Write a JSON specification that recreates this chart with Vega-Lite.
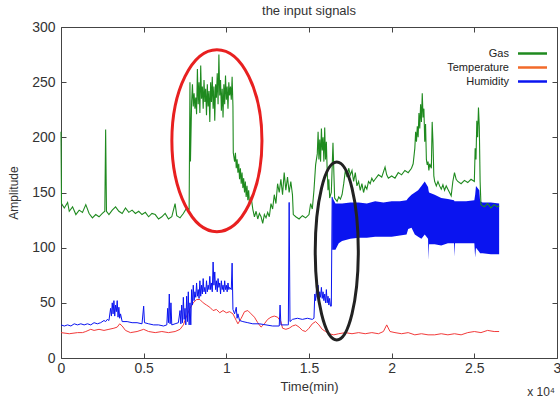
{
"$schema": "https://vega.github.io/schema/vega-lite/v6.json",
"width": 496, "height": 331,
"autosize": {"type": "none"},
"padding": {"left": 61, "top": 27, "right": 3, "bottom": 40},
"background": "white",
"title": {"text": "the input signals", "fontSize": 13, "fontWeight": "normal", "color": "#333", "font": "Liberation Sans", "offset": 2},
"config": {"view": {"stroke": null}, "font": "Liberation Sans"},
"datasets": {
"gas": [{"t":0,"v":205},{"t":0.003,"v":140},{"t":0.02,"v":136},{"t":0.04,"v":141},{"t":0.05,"v":133},{"t":0.07,"v":137},{"t":0.09,"v":130},{"t":0.11,"v":134},{"t":0.13,"v":132},{"t":0.15,"v":139},{"t":0.17,"v":131},{"t":0.19,"v":127},{"t":0.21,"v":130},{"t":0.23,"v":128},{"t":0.25,"v":131},{"t":0.265,"v":133},{"t":0.27,"v":207},{"t":0.275,"v":133},{"t":0.29,"v":130},{"t":0.31,"v":134},{"t":0.33,"v":137},{"t":0.35,"v":133},{"t":0.37,"v":131},{"t":0.39,"v":136},{"t":0.41,"v":132},{"t":0.43,"v":134},{"t":0.45,"v":131},{"t":0.47,"v":133},{"t":0.49,"v":130},{"t":0.51,"v":132},{"t":0.53,"v":128},{"t":0.55,"v":131},{"t":0.57,"v":130},{"t":0.59,"v":126},{"t":0.61,"v":128},{"t":0.63,"v":131},{"t":0.65,"v":126},{"t":0.67,"v":128},{"t":0.69,"v":140},{"t":0.70,"v":129},{"t":0.72,"v":127},{"t":0.74,"v":131},{"t":0.76,"v":136},{"t":0.775,"v":135},{"t":0.78,"v":250},{"t":0.783,"v":178},{"t":0.79,"v":232},{"t":0.795,"v":248},{"t":0.80,"v":228},{"t":0.805,"v":240},{"t":0.81,"v":226},{"t":0.815,"v":236},{"t":0.82,"v":221},{"t":0.825,"v":262},{"t":0.83,"v":230},{"t":0.835,"v":250},{"t":0.84,"v":222},{"t":0.845,"v":265},{"t":0.85,"v":235},{"t":0.855,"v":246},{"t":0.86,"v":226},{"t":0.865,"v":252},{"t":0.87,"v":232},{"t":0.875,"v":244},{"t":0.88,"v":220},{"t":0.885,"v":248},{"t":0.89,"v":228},{"t":0.895,"v":242},{"t":0.90,"v":214},{"t":0.905,"v":250},{"t":0.91,"v":232},{"t":0.915,"v":255},{"t":0.92,"v":226},{"t":0.925,"v":246},{"t":0.93,"v":215},{"t":0.935,"v":248},{"t":0.94,"v":236},{"t":0.945,"v":258},{"t":0.95,"v":230},{"t":0.955,"v":275},{"t":0.96,"v":238},{"t":0.965,"v":252},{"t":0.97,"v":224},{"t":0.975,"v":244},{"t":0.98,"v":218},{"t":0.985,"v":248},{"t":0.99,"v":230},{"t":0.995,"v":256},{"t":1.00,"v":234},{"t":1.005,"v":246},{"t":1.01,"v":226},{"t":1.015,"v":250},{"t":1.02,"v":238},{"t":1.025,"v":246},{"t":1.03,"v":234},{"t":1.035,"v":255},{"t":1.04,"v":228},{"t":1.042,"v":186},{"t":1.05,"v":178},{"t":1.055,"v":186},{"t":1.06,"v":172},{"t":1.065,"v":180},{"t":1.07,"v":168},{"t":1.075,"v":176},{"t":1.08,"v":162},{"t":1.085,"v":172},{"t":1.09,"v":158},{"t":1.095,"v":168},{"t":1.10,"v":154},{"t":1.105,"v":163},{"t":1.11,"v":150},{"t":1.115,"v":160},{"t":1.12,"v":146},{"t":1.125,"v":156},{"t":1.13,"v":143},{"t":1.135,"v":152},{"t":1.14,"v":140},{"t":1.15,"v":146},{"t":1.16,"v":135},{"t":1.17,"v":128},{"t":1.18,"v":133},{"t":1.19,"v":126},{"t":1.20,"v":131},{"t":1.21,"v":128},{"t":1.22,"v":122},{"t":1.23,"v":130},{"t":1.24,"v":127},{"t":1.25,"v":132},{"t":1.26,"v":128},{"t":1.27,"v":140},{"t":1.28,"v":135},{"t":1.29,"v":148},{"t":1.30,"v":140},{"t":1.31,"v":158},{"t":1.32,"v":150},{"t":1.33,"v":162},{"t":1.34,"v":148},{"t":1.35,"v":168},{"t":1.36,"v":152},{"t":1.37,"v":164},{"t":1.38,"v":150},{"t":1.39,"v":160},{"t":1.40,"v":148},{"t":1.405,"v":130},{"t":1.42,"v":128},{"t":1.44,"v":126},{"t":1.46,"v":129},{"t":1.48,"v":127},{"t":1.50,"v":130},{"t":1.51,"v":140},{"t":1.52,"v":135},{"t":1.53,"v":152},{"t":1.54,"v":175},{"t":1.55,"v":185},{"t":1.555,"v":205},{"t":1.56,"v":180},{"t":1.565,"v":198},{"t":1.57,"v":178},{"t":1.575,"v":208},{"t":1.58,"v":188},{"t":1.585,"v":200},{"t":1.59,"v":178},{"t":1.595,"v":209},{"t":1.60,"v":180},{"t":1.605,"v":196},{"t":1.61,"v":170},{"t":1.615,"v":152},{"t":1.62,"v":162},{"t":1.625,"v":145},{"t":1.635,"v":150},{"t":1.645,"v":195},{"t":1.655,"v":145},{"t":1.67,"v":142},{"t":1.68,"v":146},{"t":1.69,"v":144},{"t":1.70,"v":148},{"t":1.71,"v":158},{"t":1.72,"v":170},{"t":1.73,"v":164},{"t":1.74,"v":172},{"t":1.75,"v":166},{"t":1.76,"v":170},{"t":1.77,"v":160},{"t":1.78,"v":168},{"t":1.79,"v":156},{"t":1.80,"v":160},{"t":1.81,"v":152},{"t":1.82,"v":158},{"t":1.83,"v":150},{"t":1.84,"v":156},{"t":1.85,"v":153},{"t":1.86,"v":160},{"t":1.87,"v":158},{"t":1.88,"v":163},{"t":1.89,"v":160},{"t":1.90,"v":162},{"t":1.92,"v":166},{"t":1.94,"v":164},{"t":1.96,"v":173},{"t":1.97,"v":166},{"t":1.98,"v":163},{"t":2.00,"v":165},{"t":2.02,"v":163},{"t":2.04,"v":168},{"t":2.06,"v":166},{"t":2.08,"v":170},{"t":2.10,"v":168},{"t":2.12,"v":172},{"t":2.13,"v":176},{"t":2.14,"v":190},{"t":2.145,"v":205},{"t":2.15,"v":196},{"t":2.155,"v":210},{"t":2.16,"v":200},{"t":2.165,"v":222},{"t":2.17,"v":208},{"t":2.175,"v":230},{"t":2.18,"v":214},{"t":2.185,"v":240},{"t":2.19,"v":218},{"t":2.195,"v":226},{"t":2.20,"v":196},{"t":2.205,"v":212},{"t":2.21,"v":180},{"t":2.215,"v":175},{"t":2.22,"v":178},{"t":2.225,"v":170},{"t":2.23,"v":176},{"t":2.24,"v":172},{"t":2.245,"v":214},{"t":2.25,"v":195},{"t":2.255,"v":165},{"t":2.26,"v":160},{"t":2.27,"v":156},{"t":2.28,"v":160},{"t":2.29,"v":156},{"t":2.30,"v":153},{"t":2.31,"v":157},{"t":2.32,"v":152},{"t":2.33,"v":156},{"t":2.34,"v":153},{"t":2.35,"v":150},{"t":2.36,"v":147},{"t":2.37,"v":160},{"t":2.38,"v":168},{"t":2.39,"v":162},{"t":2.40,"v":160},{"t":2.42,"v":158},{"t":2.44,"v":161},{"t":2.46,"v":159},{"t":2.48,"v":162},{"t":2.50,"v":160},{"t":2.505,"v":190},{"t":2.51,"v":180},{"t":2.515,"v":215},{"t":2.52,"v":200},{"t":2.525,"v":227},{"t":2.53,"v":210},{"t":2.535,"v":160},{"t":2.54,"v":139},{"t":2.56,"v":137},{"t":2.58,"v":140},{"t":2.60,"v":136},{"t":2.62,"v":139},{"t":2.64,"v":137},{"t":2.65,"v":138}],
"temp": [{"t":0,"v":23},{"t":0.05,"v":22},{"t":0.1,"v":23},{"t":0.13,"v":23},{"t":0.15,"v":24},{"t":0.18,"v":26},{"t":0.2,"v":25},{"t":0.23,"v":26},{"t":0.26,"v":25},{"t":0.29,"v":26},{"t":0.32,"v":27},{"t":0.34,"v":28},{"t":0.355,"v":31},{"t":0.37,"v":29},{"t":0.39,"v":25},{"t":0.42,"v":23},{"t":0.46,"v":24},{"t":0.5,"v":26},{"t":0.53,"v":24},{"t":0.57,"v":23},{"t":0.61,"v":24},{"t":0.65,"v":23},{"t":0.69,"v":24},{"t":0.72,"v":26},{"t":0.74,"v":30},{"t":0.76,"v":38},{"t":0.78,"v":45},{"t":0.80,"v":50},{"t":0.82,"v":53},{"t":0.84,"v":53},{"t":0.86,"v":50},{"t":0.88,"v":48},{"t":0.90,"v":46},{"t":0.92,"v":43},{"t":0.94,"v":44},{"t":0.96,"v":41},{"t":0.98,"v":43},{"t":1.00,"v":41},{"t":1.02,"v":42},{"t":1.04,"v":40},{"t":1.06,"v":34},{"t":1.07,"v":31},{"t":1.09,"v":36},{"t":1.11,"v":42},{"t":1.13,"v":43},{"t":1.15,"v":40},{"t":1.17,"v":37},{"t":1.19,"v":32},{"t":1.21,"v":28},{"t":1.23,"v":31},{"t":1.25,"v":35},{"t":1.27,"v":37},{"t":1.29,"v":38},{"t":1.31,"v":37},{"t":1.33,"v":33},{"t":1.34,"v":27},{"t":1.36,"v":26},{"t":1.38,"v":27},{"t":1.40,"v":29},{"t":1.42,"v":30},{"t":1.44,"v":28},{"t":1.46,"v":25},{"t":1.48,"v":24},{"t":1.50,"v":27},{"t":1.52,"v":31},{"t":1.54,"v":33},{"t":1.56,"v":30},{"t":1.58,"v":26},{"t":1.60,"v":24},{"t":1.62,"v":22},{"t":1.65,"v":21},{"t":1.68,"v":22},{"t":1.72,"v":23},{"t":1.76,"v":22},{"t":1.80,"v":23},{"t":1.84,"v":22},{"t":1.88,"v":23},{"t":1.92,"v":22},{"t":1.95,"v":24},{"t":1.97,"v":30},{"t":1.99,"v":24},{"t":2.02,"v":23},{"t":2.06,"v":22},{"t":2.10,"v":23},{"t":2.14,"v":21},{"t":2.18,"v":22},{"t":2.22,"v":21},{"t":2.26,"v":21},{"t":2.30,"v":22},{"t":2.34,"v":21},{"t":2.38,"v":22},{"t":2.42,"v":21},{"t":2.46,"v":23},{"t":2.50,"v":24},{"t":2.54,"v":23},{"t":2.58,"v":25},{"t":2.62,"v":24},{"t":2.65,"v":24}],
"hum": [{"t":0,"v":30},{"t":0.02,"v":29},{"t":0.04,"v":30},{"t":0.06,"v":29},{"t":0.08,"v":31},{"t":0.10,"v":30},{"t":0.12,"v":31},{"t":0.14,"v":30},{"t":0.16,"v":31},{"t":0.18,"v":30},{"t":0.20,"v":32},{"t":0.22,"v":31},{"t":0.24,"v":32},{"t":0.26,"v":34},{"t":0.27,"v":33},{"t":0.28,"v":35},{"t":0.29,"v":34},{"t":0.30,"v":45},{"t":0.305,"v":38},{"t":0.31,"v":50},{"t":0.315,"v":40},{"t":0.32,"v":52},{"t":0.325,"v":38},{"t":0.33,"v":48},{"t":0.335,"v":42},{"t":0.34,"v":52},{"t":0.345,"v":37},{"t":0.35,"v":46},{"t":0.355,"v":36},{"t":0.36,"v":40},{"t":0.37,"v":33},{"t":0.40,"v":33},{"t":0.43,"v":32},{"t":0.46,"v":32},{"t":0.49,"v":31},{"t":0.50,"v":47},{"t":0.505,"v":32},{"t":0.53,"v":31},{"t":0.56,"v":30},{"t":0.59,"v":30},{"t":0.62,"v":29},{"t":0.64,"v":30},{"t":0.645,"v":45},{"t":0.65,"v":32},{"t":0.655,"v":58},{"t":0.66,"v":31},{"t":0.665,"v":50},{"t":0.67,"v":30},{"t":0.69,"v":31},{"t":0.71,"v":32},{"t":0.72,"v":43},{"t":0.725,"v":31},{"t":0.73,"v":48},{"t":0.735,"v":32},{"t":0.74,"v":55},{"t":0.745,"v":35},{"t":0.75,"v":45},{"t":0.755,"v":30},{"t":0.76,"v":56},{"t":0.765,"v":33},{"t":0.77,"v":60},{"t":0.775,"v":30},{"t":0.78,"v":50},{"t":0.785,"v":30},{"t":0.79,"v":62},{"t":0.795,"v":48},{"t":0.80,"v":66},{"t":0.805,"v":52},{"t":0.81,"v":60},{"t":0.815,"v":55},{"t":0.82,"v":68},{"t":0.825,"v":56},{"t":0.83,"v":62},{"t":0.835,"v":54},{"t":0.84,"v":70},{"t":0.845,"v":56},{"t":0.85,"v":66},{"t":0.855,"v":58},{"t":0.86,"v":72},{"t":0.865,"v":60},{"t":0.87,"v":64},{"t":0.875,"v":58},{"t":0.88,"v":70},{"t":0.885,"v":60},{"t":0.89,"v":66},{"t":0.895,"v":62},{"t":0.90,"v":74},{"t":0.905,"v":62},{"t":0.91,"v":68},{"t":0.915,"v":60},{"t":0.92,"v":87},{"t":0.925,"v":66},{"t":0.93,"v":78},{"t":0.935,"v":62},{"t":0.94,"v":70},{"t":0.945,"v":60},{"t":0.95,"v":72},{"t":0.955,"v":64},{"t":0.96,"v":68},{"t":0.965,"v":58},{"t":0.97,"v":70},{"t":0.975,"v":62},{"t":0.98,"v":66},{"t":0.985,"v":60},{"t":0.99,"v":70},{"t":0.995,"v":62},{"t":1.00,"v":66},{"t":1.005,"v":60},{"t":1.01,"v":68},{"t":1.015,"v":62},{"t":1.02,"v":64},{"t":1.03,"v":62},{"t":1.035,"v":86},{"t":1.04,"v":44},{"t":1.05,"v":40},{"t":1.06,"v":46},{"t":1.065,"v":36},{"t":1.07,"v":40},{"t":1.08,"v":34},{"t":1.10,"v":33},{"t":1.13,"v":32},{"t":1.16,"v":31},{"t":1.20,"v":31},{"t":1.24,"v":30},{"t":1.28,"v":29},{"t":1.32,"v":29},{"t":1.325,"v":48},{"t":1.33,"v":30},{"t":1.37,"v":30},{"t":1.375,"v":30},{"t":1.38,"v":141},{"t":1.385,"v":33},{"t":1.40,"v":35},{"t":1.43,"v":36},{"t":1.46,"v":35},{"t":1.49,"v":36},{"t":1.52,"v":35},{"t":1.53,"v":36},{"t":1.535,"v":58},{"t":1.54,"v":52},{"t":1.545,"v":62},{"t":1.55,"v":55},{"t":1.555,"v":66},{"t":1.56,"v":52},{"t":1.565,"v":60},{"t":1.57,"v":55},{"t":1.575,"v":64},{"t":1.58,"v":54},{"t":1.585,"v":60},{"t":1.59,"v":52},{"t":1.595,"v":58},{"t":1.60,"v":50},{"t":1.605,"v":62},{"t":1.61,"v":50},{"t":1.615,"v":56},{"t":1.62,"v":48},{"t":1.625,"v":54},{"t":1.63,"v":47},{"t":1.635,"v":47},{"t":1.64,"v":146}],
"band": [{"t":1.64,"lo":98,"hi":146},{"t":1.66,"lo":98,"hi":140},{"t":1.68,"lo":104,"hi":140},{"t":1.70,"lo":106,"hi":140},{"t":1.75,"lo":108,"hi":141},{"t":1.80,"lo":109,"hi":141},{"t":1.85,"lo":109,"hi":140},{"t":1.90,"lo":110,"hi":142},{"t":1.95,"lo":110,"hi":141},{"t":2.00,"lo":110,"hi":142},{"t":2.05,"lo":111,"hi":142},{"t":2.09,"lo":112,"hi":143},{"t":2.10,"lo":117,"hi":145},{"t":2.12,"lo":118,"hi":148},{"t":2.14,"lo":112,"hi":150},{"t":2.16,"lo":110,"hi":152},{"t":2.18,"lo":108,"hi":156},{"t":2.20,"lo":112,"hi":160},{"t":2.22,"lo":108,"hi":155},{"t":2.223,"lo":89,"hi":152},{"t":2.226,"lo":103,"hi":150},{"t":2.26,"lo":103,"hi":148},{"t":2.30,"lo":102,"hi":145},{"t":2.34,"lo":104,"hi":144},{"t":2.377,"lo":104,"hi":143},{"t":2.38,"lo":92,"hi":142},{"t":2.383,"lo":104,"hi":142},{"t":2.45,"lo":104,"hi":142},{"t":2.50,"lo":104,"hi":143},{"t":2.505,"lo":91,"hi":148},{"t":2.51,"lo":100,"hi":156},{"t":2.53,"lo":96,"hi":152},{"t":2.535,"lo":95,"hi":142},{"t":2.55,"lo":95,"hi":141},{"t":2.60,"lo":94,"hi":141},{"t":2.65,"lo":94,"hi":140}]
},
"layer": [
{
"encoding": {
"x": {"field": "t", "type": "quantitative", "scale": {"domain": [0, 3], "nice": false, "zero": false},
 "axis": {"orient": "bottom", "values": [0, 0.5, 1, 1.5, 2, 2.5, 3], "format": "~g", "grid": false, "tickSize": -5, "labelPadding": 8, "labelFontSize": 14, "labelColor": "#333", "labelFlush": false, "labelOverlap": false, "domainColor": "#444", "tickColor": "#444", "title": "Time(min)", "titleFontSize": 13, "titleFontWeight": "normal", "titleColor": "#333", "titlePadding": 5}},
"y": {"field": "v", "type": "quantitative", "scale": {"domain": [0, 300], "nice": false},
 "axis": {"orient": "left", "values": [0, 50, 100, 150, 200, 250, 300], "grid": false, "tickSize": -5, "labelPadding": 11, "labelFontSize": 14, "labelColor": "#333", "labelFlush": false, "labelOverlap": false, "domainColor": "#444", "tickColor": "#444", "title": "Amplitude", "titleFontSize": 12, "titleFontWeight": "normal", "titleColor": "#333", "titlePadding": 11}}
},
"layer": [
{"data": {"name": "temp"}, "mark": {"type": "line", "strokeWidth": 1, "color": "#f23a3a"}},
{"data": {"name": "band"}, "mark": {"type": "area", "opacity": 1},
 "encoding": {"y": {"field": "lo", "type": "quantitative", "title": "Amplitude"}, "y2": {"field": "hi"}, "color": {"datum": "Humidity", "type": "nominal"}}},
{"data": {"name": "hum"}, "mark": {"type": "line", "strokeWidth": 1},
 "encoding": {"color": {"datum": "Humidity", "type": "nominal"}}},
{"data": {"name": "gas"}, "mark": {"type": "line", "strokeWidth": 1.1},
 "encoding": {"color": {"datum": "Gas", "type": "nominal",
   "scale": {"domain": ["Gas", "Temperature", "Humidity"], "range": ["#1f8a1f", "#f26a2a", "#0a14f0"]},
   "legend": {"orient": "none", "legendX": 465, "legendY": 20, "title": null, "padding": 0, "symbolType": "M-2.9,0H2.9", "symbolSize": 100, "symbolStrokeWidth": 2.5, "labelAlign": "right", "labelOffset": -30, "labelFontSize": 11, "labelColor": "#222", "rowPadding": 2}}}},
{"data": {"values": [{"t": 0.943, "v": 197}]}, "mark": {"type": "point", "filled": false, "strokeWidth": 3, "color": "#e82020", "opacity": 1, "size": 33124, "shape": "M-0.495,0A0.495,1 0 1,1 0.495,0A0.495,1 0 1,1 -0.495,0Z"}},
{"data": {"values": [{"t": 1.668, "v": 97}]}, "mark": {"type": "point", "filled": false, "strokeWidth": 3, "color": "#222", "opacity": 1, "size": 31684, "shape": "M-0.242,0A0.242,1 0 1,1 0.242,0A0.242,1 0 1,1 -0.242,0Z"}},
{"data": {"values": [{"t": 3, "v": 0, "label": "x 10⁴"}]}, "mark": {"type": "text", "align": "right", "baseline": "alphabetic", "dx": -2, "dy": 38, "fontSize": 12, "color": "#333"},
 "encoding": {"text": {"field": "label"}}}
]
},
{
"data": {"values": [{"t": 0, "v": 0}]},
"mark": {"type": "point", "opacity": 0},
"encoding": {
"x": {"field": "t", "type": "quantitative", "scale": {"domain": [0, 3], "nice": false, "zero": false},
 "axis": {"orient": "top", "values": [0, 0.5, 1, 1.5, 2, 2.5, 3], "labels": false, "grid": false, "tickSize": -5, "domainColor": "#444", "tickColor": "#444", "title": null}},
"y": {"field": "v", "type": "quantitative", "scale": {"domain": [0, 300], "nice": false},
 "axis": {"orient": "right", "values": [0, 50, 100, 150, 200, 250, 300], "labels": false, "grid": false, "tickSize": -5, "domainColor": "#444", "tickColor": "#444", "title": null}}
}
}
],
"resolve": {"axis": {"x": "independent", "y": "independent"}}
}
